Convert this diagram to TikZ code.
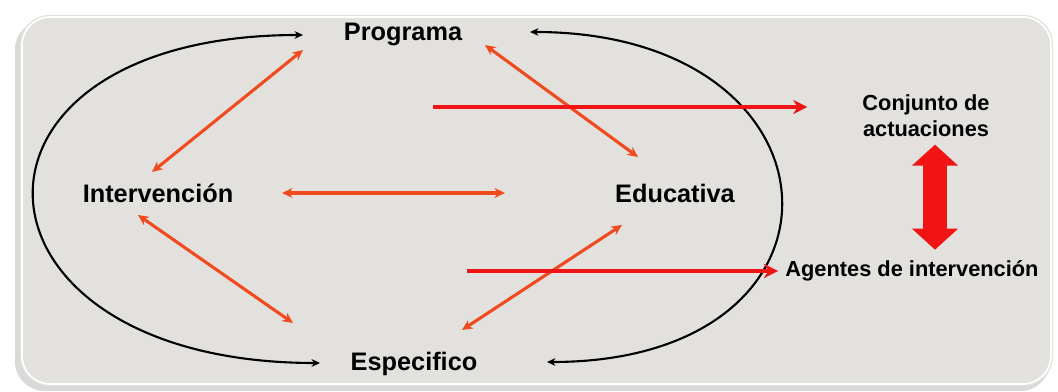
\documentclass[tikz,border=0pt]{standalone}
\usepackage{fontspec}
\setmainfont{Liberation Sans}
\usetikzlibrary{arrows.meta, calc, positioning}
\definecolor{naranja}{HTML}{F04A1E}
\definecolor{rojo}{HTML}{F01414}
\definecolor{panel}{HTML}{E2E1DE}

\begin{document}
\begin{tikzpicture}[x=0.025cm, y=-0.025cm,
        every node/.style={inner sep=0pt, font=\bfseries\fontsize{18}{20}\selectfont},
        chico/.style={font=\bfseries\fontsize{15.5}{18.5}\selectfont},
        ciclo/.style={>={Stealth[length=6pt,width=5.5pt]}, <->, line width=1.5pt, black},
        enlace/.style={>={Stealth[length=7.5pt,width=7pt]}, <->, line width=2.2pt, naranja},
        flecha/.style={>={Stealth[length=10pt,width=10pt,inset=3pt]}, ->, line width=2.4pt, rojo},
        grande/.style={{Triangle[length=15pt,width=32pt]}-{Triangle[length=15pt,width=32pt]}, line width=17.5pt, rojo}]
        \useasboundingbox (0,0) rectangle (1058,392);
        % fondo
        \fill[white] (0,0) rectangle (1058,392);
        \fill[black!15, rounded corners=21pt] (15,20) rectangle (1050,391);
        \fill[panel, rounded corners=21pt] (20,15) rectangle (1053,386);
        \draw[white, line width=1.2pt, rounded corners=20pt] (22,17) rectangle (1051,384);
        % nodos
        \node[anchor=base] (prog) at (403,41) {Programa};
        \node[anchor=base] (interv) at (158,203) {Intervención};
        \node[anchor=base] (educ) at (675,203) {Educativa};
        \node[anchor=base] (espec) at (414,370) {Especifico};
        \node[chico, align=center, anchor=north] (conj) at (926,94) {Conjunto de\\actuaciones};
        \node[chico, anchor=base] (agent) at (912,277) {Agentes de intervención};
        \coordinate (c1) at (433,107);
        \coordinate (c2) at (467,271);
        % ciclo
        \draw[ciclo] ([shift={(-100,-6)}]prog.base) to[out=180, in=180, looseness=2.88] ([shift={(-94,-7)}]espec.base);
        \draw[ciclo] ([shift={(127,-9)}]prog.base) to[out=0, in=0, looseness=2.5] ([shift={(133,-8)}]espec.base);
        % relaciones
        \path[enlace] ([shift={(-100,9)}]prog.base) edge ([shift={(-6,-31)}]interv.base)
        ([shift={(82,4)}]prog.base) edge ([shift={(-37,-46)}]educ.base)
        ([shift={(124,-10)}]interv.base) edge ([shift={(-170,-10)}]educ.base)
        ([shift={(-20,12)}]interv.base) edge ([shift={(-121,-47)}]espec.base)
        ([shift={(-53,22)}]educ.base) edge ([shift={(48,-40)}]espec.base);
        \draw[flecha, shorten >=39pt] (c1) -- (c1 -| conj.west);
        \draw[flecha, shorten >=5pt] (c2) -- (c2 -| agent.west);
        \draw[grande] ([shift={(9,8)}]conj.south) -- ([shift={(23,-11)}]agent.north);
    \end{tikzpicture}
\end{document}
